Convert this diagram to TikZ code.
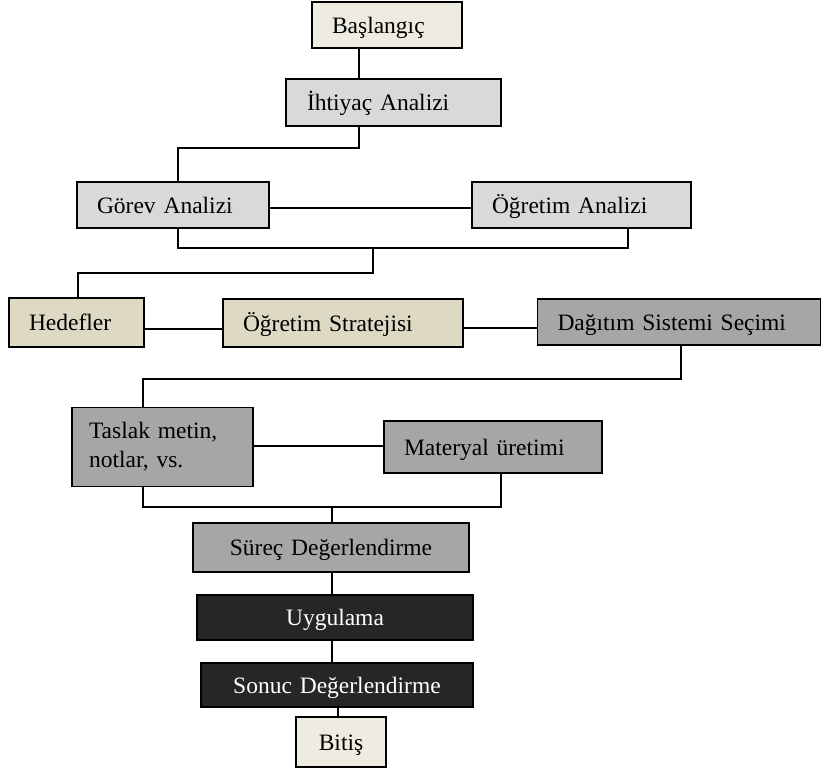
\documentclass[tikz,border=0pt]{standalone}
\usepackage{fontspec}
\setmainfont{Liberation Serif}
\definecolor{cream}{HTML}{EEECE1}
\definecolor{lgray}{HTML}{D9D9D9}
\definecolor{tan}{HTML}{DDD9C3}
\definecolor{mgray}{HTML}{A6A6A6}
\definecolor{dark}{HTML}{262626}
\begin{document}
\begin{tikzpicture}[x=1pt,y=-1pt,
  box/.style={draw=black, line width=1.6pt, rectangle, inner ysep=0pt, inner xsep=20pt, align=left,
    font=\fontsize{23.5}{29}\selectfont},
  capc/.style={text height=16pt, text depth=0pt},
  cbox/.style={box, capc, align=center, inner xsep=0pt},
  conn/.style={draw=black, line width=1.6pt}]
\useasboundingbox (0,0) rectangle (822,771);
\fill[white] (0,0) rectangle (822,771);
% nodes
\node[box, capc, fill=cream, text width=110pt, minimum height=46pt] (start) at (387,25) {Başlangıç};
\node[box, capc, fill=lgray, minimum height=47pt, inner xsep=21pt, text width=173pt] (need) at (393.5,102.5) {İhtiyaç Analizi};
\node[box, capc, fill=lgray, text width=152pt, minimum height=46pt] (gorev) at (173,205) {Görev Analizi};
\node[box, capc, fill=lgray, text width=179pt, minimum height=46pt] (ogan) at (581.5,205) {Öğretim Analizi};
\node[box, capc, fill=tan, text width=95pt, minimum height=49pt] (hedef) at (76.5,322.5) {Hedefler};
\node[box, capc, fill=tan, text width=200pt, minimum height=48pt] (strat) at (343,323) {Öğretim Stratejisi};
\node[box, capc, fill=mgray, text width=243pt, minimum height=46pt] (dagitim) at (679,322) {Dağıtım Sistemi Seçimi};
\node[box, fill=mgray, text width=147pt, inner xsep=17pt, minimum height=79pt] (taslak) at (162.5,447) {Taslak metin,\\notlar, vs.};
\node[box, capc, fill=mgray, text width=178pt, minimum height=52pt] (materyal) at (493,447) {Materyal üretimi};
\node[cbox, fill=mgray, text width=276pt, minimum height=49pt] (surec) at (331,547.5) {Süreç Değerlendirme};
\node[cbox, fill=dark, text=white, text width=276pt, minimum height=45pt] (uyg) at (335,617.5) {Uygulama};
\node[cbox, fill=dark, text=white, text width=272pt, minimum height=44pt] (sonuc) at (337,685) {Sonuc Değerlendirme};
\node[cbox, fill=cream, text width=90pt, minimum height=50pt] (bitis) at (341,742) {Bitiş};
% helper coordinates
\coordinate (x359) at (359,0);
\coordinate (j1) at (359,148);
\coordinate (j1b) at (178,148);
\coordinate (j2a) at (178,248);
\coordinate (j2b) at (628,248);
\coordinate (j2m) at (373,248);
\coordinate (j3a) at (373,273);
\coordinate (j3b) at (78,273);
\coordinate (y208) at (0,208);
\coordinate (y329) at (0,329);
\coordinate (y328) at (0,328);
\coordinate (j4a) at (681,379);
\coordinate (j4b) at (143,379);
\coordinate (y446) at (0,446);
\coordinate (j5a) at (143,507);
\coordinate (j5b) at (501,507);
\coordinate (j5m) at (332,507);
\coordinate (x332) at (332,0);
\coordinate (x338) at (338,0);
% connectors
\draw[conn] (start.south -| x359) -- (need.north -| x359);
\draw[conn] (need.south -| x359) -- (j1) -- (j1b) -- (gorev.north -| j1b);
\draw[conn] (gorev.east |- y208) -- (ogan.west |- y208);
\draw[conn] (gorev.south -| j2a) -- (j2a) -- (j2b) -- (ogan.south -| j2b);
\draw[conn] (j2m) -- (j3a) -- (j3b) -- (hedef.north -| j3b);
\draw[conn] (hedef.east |- y329) -- (strat.west |- y329);
\draw[conn] (strat.east |- y328) -- (dagitim.west |- y328);
\draw[conn] (dagitim.south -| j4a) -- (j4a) -- (j4b) -- (taslak.north -| j4b);
\draw[conn] (taslak.east |- y446) -- (materyal.west |- y446);
\draw[conn] (taslak.south -| j5a) -- (j5a) -- (j5b) -- (materyal.south -| j5b);
\draw[conn] (j5m) -- (surec.north -| j5m);
\draw[conn] (surec.south -| x332) -- (uyg.north -| x332);
\draw[conn] (uyg.south -| x332) -- (sonuc.north -| x332);
\draw[conn] (sonuc.south -| x338) -- (bitis.north -| x338);
\end{tikzpicture}
\end{document}
